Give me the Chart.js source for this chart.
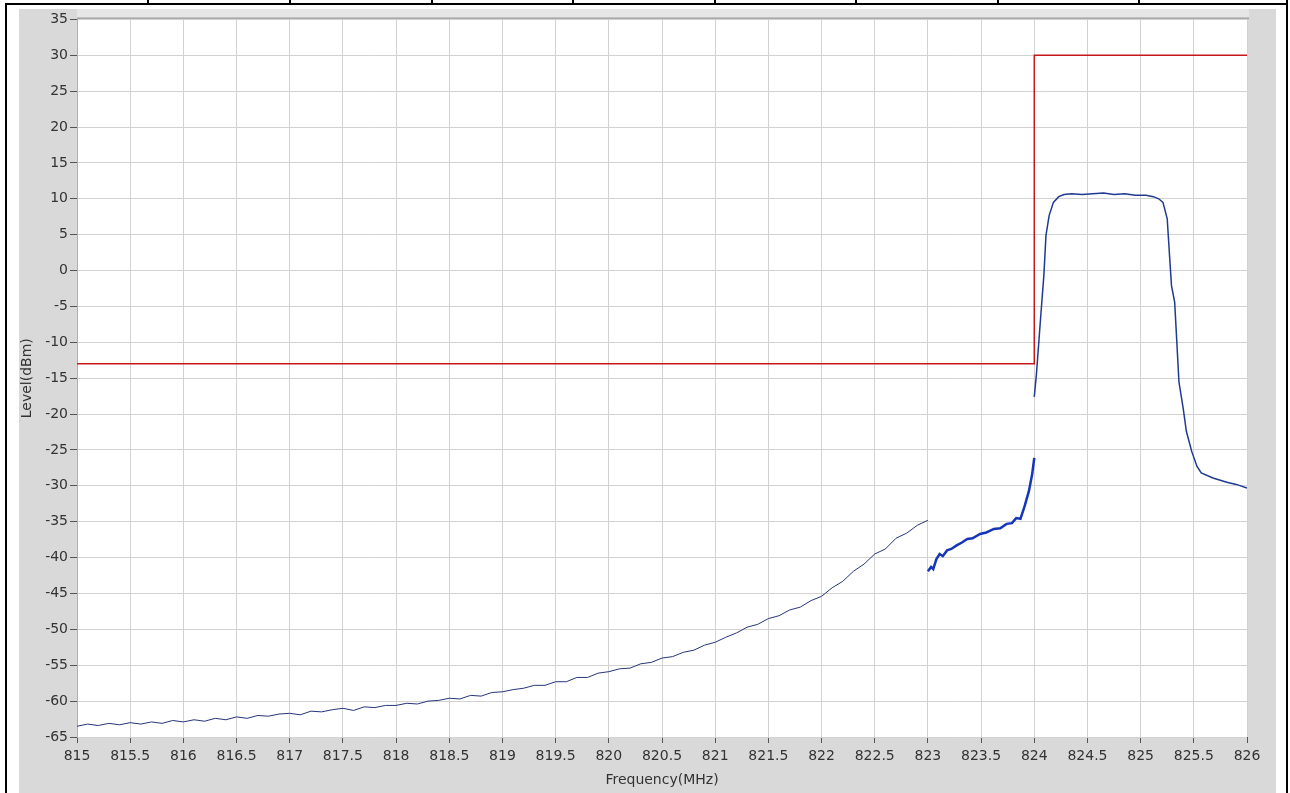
<!DOCTYPE html>
<html>
<head>
<meta charset="utf-8">
<script src="https://cdn.jsdelivr.net/npm/chart.js@4.4.1/dist/chart.umd.min.js"></script>
<style>
  html, body { margin: 0; padding: 0; background: #fff; }
  body { width: 1290px; height: 793px; position: relative; overflow: hidden; }
  .frame-top { position: absolute; left: 5px; top: 3px; width: 1283px; height: 2px; background: #000; }
  .frame-left { position: absolute; left: 5px; top: 3px; width: 2px; height: 790px; background: #000; }
  .frame-right { position: absolute; left: 1286px; top: 0; width: 2px; height: 793px; background: #000; }
  .div-tick { position: absolute; top: 0; width: 2px; height: 5px; background: #000; }
  #wrap { position: absolute; left: 19px; top: 9px; width: 1257px; height: 784px; }
</style>
</head>
<body>
<div class="frame-top"></div>
<div class="frame-left"></div>
<div class="frame-right"></div>
<div class="div-tick" style="left:147px"></div>
<div class="div-tick" style="left:289px"></div>
<div class="div-tick" style="left:431px"></div>
<div class="div-tick" style="left:572px"></div>
<div class="div-tick" style="left:714px"></div>
<div class="div-tick" style="left:855px"></div>
<div class="div-tick" style="left:997px"></div>
<div class="div-tick" style="left:1138px"></div>
<div id="wrap"><canvas id="specChart"></canvas></div>
<script>
// spectrum trace, lower part (815 - 823 MHz)
const seg1Freq = [815.0, 815.1, 815.2, 815.3, 815.4, 815.5, 815.6, 815.7, 815.8, 815.9,
  816.0, 816.1, 816.2, 816.3, 816.4, 816.5, 816.6, 816.7, 816.8, 816.9,
  817.0, 817.1, 817.2, 817.3, 817.4, 817.5, 817.6, 817.7, 817.8, 817.9,
  818.0, 818.1, 818.2, 818.3, 818.4, 818.5, 818.6, 818.7, 818.8, 818.9,
  819.0, 819.1, 819.2, 819.3, 819.4, 819.5, 819.6, 819.7, 819.8, 819.9,
  820.0, 820.1, 820.2, 820.3, 820.4, 820.5, 820.6, 820.7, 820.8, 820.9,
  821.0, 821.1, 821.2, 821.3, 821.4, 821.5, 821.6, 821.7, 821.8, 821.9,
  822.0, 822.1, 822.2, 822.3, 822.4, 822.5, 822.6, 822.7, 822.8, 822.9, 823.0];
const seg1Level = [-63.5, -63.2, -63.4, -63.1, -63.3, -63.0, -63.2, -62.9, -63.1, -62.7,
  -62.9, -62.6, -62.8, -62.4, -62.6, -62.2, -62.4, -62.0, -62.1, -61.8,
  -61.7, -61.9, -61.4, -61.5, -61.2, -61.0, -61.3, -60.8, -60.9, -60.6,
  -60.6, -60.3, -60.4, -60.0, -59.9, -59.6, -59.7, -59.2, -59.3, -58.8,
  -58.7, -58.4, -58.2, -57.8, -57.8, -57.3, -57.3, -56.7, -56.7, -56.1,
  -55.9, -55.5, -55.4, -54.8, -54.6, -54.0, -53.8, -53.2, -52.9, -52.2,
  -51.8, -51.1, -50.5, -49.7, -49.3, -48.5, -48.1, -47.3, -46.9, -46.0,
  -45.4, -44.2, -43.3, -41.9, -40.9, -39.5, -38.8, -37.3, -36.6, -35.5, -34.8];

// spectrum trace, 823 - 824 MHz
const seg2Freq = [823.00, 823.03, 823.05, 823.08, 823.11, 823.14, 823.18, 823.22, 823.27, 823.32,
  823.37, 823.42, 823.49, 823.55, 823.62, 823.68, 823.74, 823.79, 823.83, 823.87,
  823.91, 823.95, 823.98, 824.00];
const seg2Level = [-41.9, -41.3, -41.6, -40.2, -39.5, -39.8, -39.0, -38.8, -38.3, -37.9,
  -37.4, -37.3, -36.7, -36.5, -36.0, -35.9, -35.3, -35.2, -34.5, -34.6,
  -32.8, -30.7, -28.4, -26.1];

// carrier, 824 - 826 MHz
const seg3Freq = [824.00, 824.02, 824.04, 824.06, 824.09, 824.11, 824.14, 824.18, 824.23, 824.28,
  824.35, 824.45, 824.55, 824.65, 824.75, 824.85, 824.95, 825.05, 825.12, 825.17,
  825.21, 825.25, 825.27, 825.29, 825.32, 825.34, 825.36, 825.40, 825.43, 825.48,
  825.53, 825.57, 825.68, 825.81, 825.90, 826.00];
const seg3Level = [-17.6, -14.5, -10.5, -6.5, -0.7, 4.9, 7.7, 9.5, 10.3, 10.6,
  10.7, 10.6, 10.7, 10.8, 10.6, 10.7, 10.5, 10.5, 10.3, 10.0,
  9.5, 7.2, 2.5, -2.1, -4.4, -9.9, -15.5, -19.2, -22.4, -25.2,
  -27.3, -28.2, -28.9, -29.5, -29.8, -30.3];

// emission limit mask
const limitFreq = [815, 824, 824, 826];
const limitLevel = [-13, -13, 30, 30];

const toPoints = (xs, ys) => xs.map((x, i) => ({ x: x, y: ys[i] }));

const FONT = { family: 'DejaVu Sans', size: 14 };
const TEXT = '#333';

// gray panel, white plot area and the shaded strip over the top of the plot
const panelPlugin = {
  id: 'panel',
  beforeDraw(chart) {
    const { ctx, chartArea: a, width, height } = chart;
    ctx.save();
    ctx.fillStyle = '#d9d9d9';
    ctx.fillRect(0, 0, width, height);
    ctx.fillStyle = '#fff';
    ctx.fillRect(a.left, a.top, a.right - a.left, a.bottom - a.top);
    ctx.fillStyle = '#e6e6e6';
    ctx.fillRect(a.left, 0, a.right - a.left + 2, a.top);
    ctx.fillStyle = '#a8a8a8';
    ctx.fillRect(a.left, a.top - 2, a.right - a.left + 2, 2);
    ctx.restore();
  }
};

const ctx = document.getElementById('specChart').getContext('2d');

const specChart = new Chart(ctx, {
  type: 'line',
  data: {
    datasets: [
      {
        data: toPoints(limitFreq, limitLevel),
        borderColor: '#c8161d',
        borderWidth: 1.5
      },
      {
        data: toPoints(seg1Freq, seg1Level),
        borderColor: '#27357a',
        borderWidth: 1
      },
      {
        data: toPoints(seg2Freq, seg2Level),
        borderColor: '#1536b8',
        borderWidth: 2.5
      },
      {
        data: toPoints(seg3Freq, seg3Level),
        borderColor: '#1f3a93',
        borderWidth: 1.5
      }
    ]
  },
  options: {
    responsive: true,
    maintainAspectRatio: false,
    animation: false,
    elements: { point: { radius: 0 }, line: { tension: 0 } },
    layout: { padding: { top: 7, right: 29, left: 0, bottom: 0 } },
    plugins: {
      legend: { display: false },
      tooltip: { enabled: false }
    },
    scales: {
      x: {
        type: 'linear',
        min: 815,
        max: 826,
        afterFit(scale) { scale.height = 56; },
        ticks: {
          stepSize: 0.5, color: TEXT, font: FONT, padding: 5, maxRotation: 0, autoSkip: false,
          callback: (value) => String(value)
        },
        grid: { color: '#d2d2d2', lineWidth: 1, tickLength: 6, tickColor: '#555' },
        border: { display: false },
        title: { display: true, text: 'Frequency(MHz)', color: TEXT, font: FONT, padding: { top: 0, bottom: 4 } }
      },
      y: {
        min: -65,
        max: 35,
        afterFit(scale) { scale.width = 58; },
        ticks: { stepSize: 5, color: TEXT, font: FONT, padding: 2 },
        grid: { color: '#d2d2d2', lineWidth: 1, tickLength: 7, tickColor: '#555' },
        border: { display: true, color: '#b0b0b0' },
        title: { display: true, text: 'Level(dBm)', color: TEXT, font: FONT, padding: { top: 0, bottom: 0 } }
      }
    }
  },
  plugins: [panelPlugin]
});
</script>
</body>
</html>
